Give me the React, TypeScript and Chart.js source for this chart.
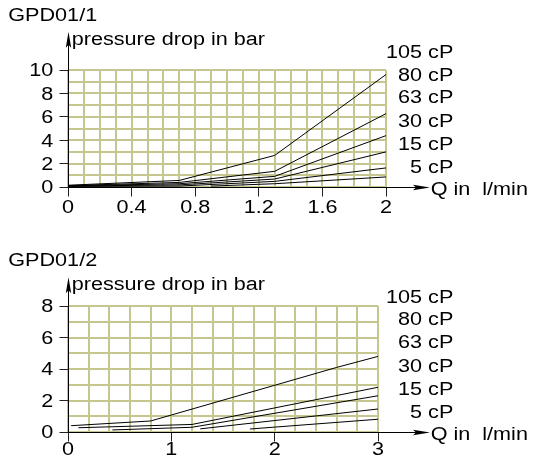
import React, { useEffect, useRef } from 'react';
import { Chart, registerables } from 'chart.js';

Chart.register(...registerables);

// ---------- data ----------
const viscosityLabels = ['105 cP', '80 cP', '63 cP', '30 cP', '15 cP', '5 cP'];

// GPD01/1  (Q in l/min, pressure drop in bar)
const g1Flow105 = [0, 0.7, 1.3, 2];
const g1Drop105 = [0.15, 0.56, 2.7, 9.61];
const g1Flow80 = [0, 0.7, 1.3, 2];
const g1Drop80 = [0.12, 0.39, 1.34, 6.27];
const g1Flow63 = [0, 0.7, 1.3, 2];
const g1Drop63 = [0.1, 0.28, 0.91, 4.39];
const g1Flow30 = [0, 0.7, 1.3, 2];
const g1Drop30 = [0.08, 0.18, 0.68, 3.0];
const g1Flow15 = [0, 0.7, 1.3, 2];
const g1Drop15 = [0.05, 0.08, 0.48, 1.63];
const g1Flow5 = [0.9, 1.3, 2];
const g1Drop5 = [0.08, 0.28, 0.86];
const g1XTickLabels = [0, 0.4, 0.8, 1.2, 1.6, 2];
const g1YTickLabels = [0, 2, 4, 6, 8, 10];

// GPD01/2
const g2Flow105 = [0.03, 0.8, 2.6, 3];
const g2Drop105 = [0.4, 0.7, 4.1, 4.8];
const g2Flow80 = [0.1, 1.2, 3];
const g2Drop80 = [0.27, 0.48, 2.84];
const g2Flow63 = [0.43, 1.2, 3];
const g2Drop63 = [0.13, 0.3, 2.3];
const g2Flow30 = [1.28, 3];
const g2Drop30 = [0.2, 1.46];
const g2Flow15 = [1.76, 3];
const g2Drop15 = [0.19, 0.81];
const g2XTickLabels = [0, 1, 2, 3];
const g2YTickLabels = [0, 2, 4, 6, 8];

// ---------- styling ----------
const W = 533;
const GRID = 'rgb(198,198,145)';
const FONT = '18px "Liberation Sans", Arial, Helvetica, sans-serif';
const SX = 1.2;
const TICK_LEN = 9;

function pts(xs: number[], ys: number[]) {
  return xs.map((x, i) => ({ x, y: ys[i] }));
}

function txt(ctx: CanvasRenderingContext2D, s: string, x: number, y: number, align: CanvasTextAlign) {
  ctx.save();
  ctx.translate(x, y);
  ctx.scale(SX, 1);
  ctx.font = FONT;
  ctx.fillStyle = '#000';
  ctx.textAlign = align;
  ctx.textBaseline = 'alphabetic';
  ctx.fillText(s, 0, 0);
  ctx.restore();
}

const al = (p: number) => Math.round(p - 0.5) + 0.5;

const decorPlugin = {
  id: 'decor',
  afterDraw(chart: any) {
    const d = chart.options.plugins.decor;
    if (!d) return;
    const ctx: CanvasRenderingContext2D = chart.ctx;
    const xs = chart.scales.x;
    const ys = chart.scales.y;
    const x0 = al(xs.getPixelForValue(0));
    const y0 = al(ys.getPixelForValue(0));
    ctx.save();
    ctx.strokeStyle = '#000';
    ctx.fillStyle = '#000';
    ctx.lineWidth = 1;
    // tick marks at labelled values
    ctx.beginPath();
    d.xLabels.forEach((v: number) => {
      const px = al(xs.getPixelForValue(v));
      ctx.moveTo(px, y0);
      ctx.lineTo(px, y0 + TICK_LEN);
    });
    d.yLabels.forEach((v: number) => {
      const py = al(ys.getPixelForValue(v));
      ctx.moveTo(x0 - TICK_LEN, py);
      ctx.lineTo(x0, py);
    });
    ctx.strokeStyle = '#222';
    ctx.stroke();
    ctx.strokeStyle = '#000';
    // y axis + arrow
    ctx.beginPath();
    ctx.moveTo(x0, y0);
    ctx.lineTo(x0, d.yTip + 8);
    ctx.stroke();
    ctx.beginPath();
    ctx.moveTo(x0, d.yTip);
    ctx.lineTo(x0 - 2.7, d.yTip + 16);
    ctx.lineTo(x0, d.yTip + 13);
    ctx.lineTo(x0 + 2.7, d.yTip + 16);
    ctx.closePath();
    ctx.fill();
    // x axis + arrow
    ctx.beginPath();
    ctx.moveTo(x0, y0);
    ctx.lineTo(d.xTip - 8, y0);
    ctx.stroke();
    ctx.beginPath();
    ctx.moveTo(d.xTip, y0);
    ctx.lineTo(d.xTip - 17, y0 - 2.7);
    ctx.lineTo(d.xTip - 14, y0);
    ctx.lineTo(d.xTip - 17, y0 + 2.7);
    ctx.closePath();
    ctx.fill();
    ctx.restore();

    // tick labels
    d.xLabels.forEach((v: number) => txt(ctx, String(v), xs.getPixelForValue(v), d.xLabelBase, 'center'));
    d.yLabels.forEach((v: number) => txt(ctx, String(v), d.yLabelRight, ys.getPixelForValue(v) + 6.4, 'right'));

    // titles
    txt(ctx, d.title, 8.3, d.titleBase, 'left');
    txt(ctx, 'pressure drop in bar', 71.7, d.yTitleBase, 'left');
    txt(ctx, 'Q in  l/min', 430.7, d.xTitleBase, 'left');

    // viscosity labels
    viscosityLabels.forEach((s, i) => txt(ctx, s, 453.3, d.legendBase[i], 'right'));
  },
};

function buildConfig(c: any): any {
  const gridOpts = {
    color: GRID,
    lineWidth: 2,
    drawTicks: false,
    drawOnChartArea: true,
  };
  const stepTicks = (max: number, step: number) => (scale: any) => {
    const n = Math.round(max / step);
    const t = [];
    for (let i = 0; i <= n; i++) t.push({ value: +(i * step).toFixed(6) });
    scale.ticks = t;
  };
  return {
    type: 'scatter',
    data: {
      datasets: c.series.map((s: any) => ({
        data: pts(s[0], s[1]),
        showLine: true,
        borderColor: '#000',
        borderWidth: 1,
        pointRadius: 0,
        pointHoverRadius: 0,
        fill: false,
        tension: 0,
      })),
    },
    options: {
      responsive: false,
      animation: false,
      events: [],
      layout: { padding: { left: 0, top: c.area.top, right: W - c.area.right, bottom: 0 } },
      plugins: {
        legend: { display: false },
        tooltip: { enabled: false },
        decor: c.decor,
      },
      scales: {
        x: {
          type: 'linear',
          min: 0,
          max: c.xMax,
          border: { display: false },
          grid: gridOpts,
          ticks: { display: false },
          afterBuildTicks: stepTicks(c.xMax, c.xStep),
          afterFit: (s: any) => {
            s.height = c.height - c.area.bottom;
          },
        },
        y: {
          type: 'linear',
          min: 0,
          max: c.yMax,
          border: { display: false },
          grid: gridOpts,
          ticks: { display: false },
          afterBuildTicks: stepTicks(c.yMax, c.yStep),
          afterFit: (s: any) => {
            s.width = c.area.left;
          },
        },
      },
    },
    plugins: [decorPlugin],
  };
}

const chart1 = {
  height: 232,
  xMax: 2,
  xStep: 0.1,
  yMax: 10,
  yStep: 1,
  area: { left: 68, top: 70, right: 386, bottom: 187 },
  series: [
    [g1Flow105, g1Drop105],
    [g1Flow80, g1Drop80],
    [g1Flow63, g1Drop63],
    [g1Flow30, g1Drop30],
    [g1Flow15, g1Drop15],
    [g1Flow5, g1Drop5],
  ],
  decor: {
    title: 'GPD01/1',
    titleBase: 20.7,
    yTitleBase: 45,
    xTitleBase: 194.5,
    yTip: 31.7,
    xTip: 430,
    xLabels: g1XTickLabels,
    yLabels: g1YTickLabels,
    xLabelBase: 213,
    yLabelRight: 53.3,
    legendBase: [58.3, 81, 103.3, 126.7, 150, 173.3],
  },
};

const chart2 = {
  height: 231,
  xMax: 3,
  xStep: 0.2,
  yMax: 8,
  yStep: 1,
  area: { left: 68, top: 74, right: 378, bottom: 200 },
  series: [
    [g2Flow105, g2Drop105],
    [g2Flow80, g2Drop80],
    [g2Flow63, g2Drop63],
    [g2Flow30, g2Drop30],
    [g2Flow15, g2Drop15],
  ],
  decor: {
    title: 'GPD01/2',
    titleBase: 34,
    yTitleBase: 58,
    xTitleBase: 207.5,
    yTip: 45.3,
    xTip: 430,
    xLabels: g2XTickLabels,
    yLabels: g2YTickLabels,
    xLabelBase: 222.6,
    yLabelRight: 53.3,
    legendBase: [71.3, 93, 116.3, 139.7, 163, 185.7],
  },
};

function GpdChart({ cfg, top }: { cfg: any; top: number }) {
  const ref = useRef<HTMLCanvasElement>(null);
  useEffect(() => {
    if (!ref.current) return;
    const chart = new Chart(ref.current, buildConfig(cfg));
    return () => chart.destroy();
  }, [cfg]);
  return (
    <div style={{ position: 'absolute', left: 0, top, width: W, height: cfg.height }}>
      <canvas ref={ref} width={W} height={cfg.height} style={{ width: W, height: cfg.height, display: 'block' }} />
    </div>
  );
}

export default function App() {
  return (
    <div style={{ position: 'fixed', left: 0, top: 0, width: W, height: 463, background: '#fff' }}>
      <GpdChart cfg={chart1} top={0} />
      <GpdChart cfg={chart2} top={232} />
    </div>
  );
}
